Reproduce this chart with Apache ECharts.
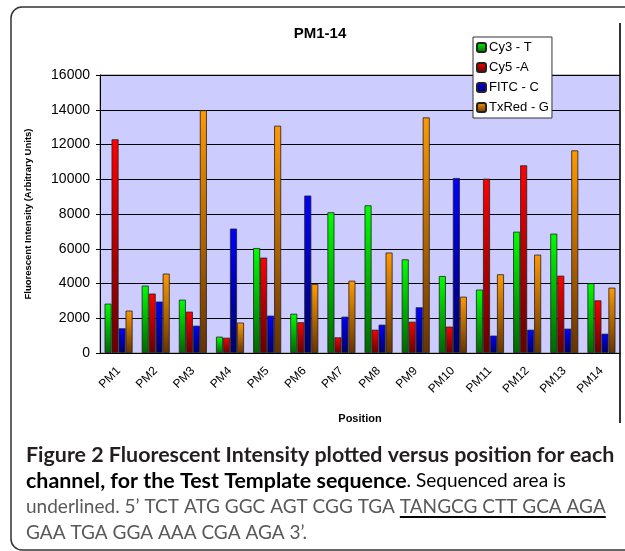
<!DOCTYPE html>
<html>
<head>
<meta charset="utf-8">
<title>PM1-14</title>
<script src="https://cdn.jsdelivr.net/npm/echarts@6.0.0/dist/echarts.min.js"></script>
<style>
  html, body { margin: 0; padding: 0; background: #fff; }
  #chart { width: 625px; height: 551px; }
</style>
</head>
<body>
<div id="chart"></div>
<script>
// values
const categories = ['PM1', 'PM2', 'PM3', 'PM4', 'PM5', 'PM6', 'PM7', 'PM8', 'PM9', 'PM10', 'PM11', 'PM12', 'PM13', 'PM14'];
const cy3 = [2840, 3880, 3070, 940, 6040, 2260, 8100, 8500, 5390, 4430, 3650, 6980, 6870, 4010];
const cy5 = [12300, 3420, 2380, 880, 5490, 1770, 900, 1340, 1800, 1520, 10030, 10800, 4450, 3030];
const fitc = [1420, 2960, 1570, 7160, 2150, 9060, 2090, 1630, 2630, 10070, 1000, 1340, 1400, 1110];
const txred = [2440, 4570, 13970, 1750, 13080, 3970, 4160, 5780, 13560, 3240, 4530, 5660, 11660, 3760];
const seriesNames = ['Cy3 - T', 'Cy5 -A', 'FITC - C', 'TxRed - G'];

const captionLine1 = 'Figure 2 Fluorescent Intensity plotted versus position for each';
const captionLine2Bold = 'channel, for the Test Template sequence';
const captionLine2 = '. Sequenced area is';
const captionLine3 = 'underlined. 5\u2019 TCT ATG GGC AGT CGG TGA TANGCG CTT GCA AGA';
const captionLine3Pre = 'underlined. 5\u2019 TCT ATG GGC AGT CGG TGA ';
const captionLine4 = 'GAA TGA GGA AAA CGA AGA 3\u2019.';

const font = 'Liberation Sans';
const capFont = 'Lato';

// fit caption font sizes to the widths seen in the picture
const ctx = document.createElement('canvas').getContext('2d');
function fitSize(text, weight, width) {
  ctx.font = weight + ' 20px ' + capFont;
  return 20 * width / ctx.measureText(text).width;
}
const boldSize = fitSize(captionLine1, 'bold', 589);
const normalSize = fitSize(captionLine3, 'normal', 580);
ctx.font = 'normal ' + normalSize + 'px ' + capFont;
const ulStart = 26 + ctx.measureText(captionLine3Pre).width;
const ulEnd = 26 + ctx.measureText(captionLine3).width;

function shade(top, bottom) {
  return new echarts.graphic.LinearGradient(0, 0, 0, 1, [
    { offset: 0, color: top },
    { offset: 1, color: bottom }
  ]);
}
const fills = [
  shade('#00ff00', '#006600'),
  shade('#ff0000', '#660000'),
  shade('#0000ff', '#000066'),
  shade('#ff9900', '#663300')
];

const chart = echarts.init(document.getElementById('chart'));

chart.setOption({
  animation: false,
  textStyle: { fontFamily: font },
  grid: {
    left: 100, top: 75, right: 5, height: 278,
    show: true, backgroundColor: '#ccccff', borderColor: '#808080', borderWidth: 1
  },
  legend: {
    data: seriesNames,
    orient: 'vertical',
    left: 473, top: 37,
    itemWidth: 9, itemHeight: 9, itemGap: 7,
    padding: [4, 3],
    backgroundColor: '#fff',
    borderColor: '#333', borderWidth: 1,
    textStyle: { fontFamily: font, fontSize: 13, color: '#000', padding: [0, 0, 0, -2] }
  },
  xAxis: {
    type: 'category',
    data: categories,
    name: 'Position',
    nameLocation: 'middle',
    nameGap: 60,
    nameTextStyle: { fontFamily: font, fontSize: 11, fontWeight: 'bold', color: '#000' },
    axisLine: { lineStyle: { color: '#000' } },
    axisTick: { length: 4, lineStyle: { color: '#000' } },
    axisLabel: { interval: 0, rotate: 45, fontSize: 12, color: '#000', margin: 16 }
  },
  yAxis: {
    type: 'value',
    min: 0, max: 16000, interval: 2000,
    name: 'Fluorescent Intensity (Arbitrary Units)',
    nameLocation: 'middle',
    nameGap: 67,
    nameTextStyle: { fontFamily: font, fontSize: 9.5, fontWeight: 'bold', color: '#000' },
    axisLine: { show: true, lineStyle: { color: '#000' } },
    axisTick: { show: true, length: 4, lineStyle: { color: '#000' } },
    axisLabel: { fontSize: 14, color: '#000', margin: 10, formatter: v => String(v) },
    splitLine: { lineStyle: { color: '#000', width: 1 } }
  },
  series: [cy3, cy5, fitc, txred].map((vals, i) => ({
    name: seriesNames[i],
    type: 'bar',
    data: vals,
    barWidth: 7,
    barGap: '0%',
    itemStyle: { color: fills[i], borderColor: '#222', borderWidth: 0.8 }
  })),
  graphic: [
    {
      type: 'rect', silent: true,
      shape: { x: 11, y: 7, width: 630, height: 543, r: 11 },
      style: { fill: null, stroke: '#333', lineWidth: 1.5 }
    },
    {
      type: 'line', silent: true,
      shape: { x1: 620, y1: 23, x2: 620, y2: 423 },
      style: { stroke: '#333', lineWidth: 2 }
    },
    {
      type: 'text', silent: true, x: 320, y: 34,
      style: { text: 'PM1-14', font: 'bold 15px ' + font, fill: '#000', align: 'center', verticalAlign: 'middle' }
    },
    {
      type: 'text', silent: true, x: 26, y: 455,
      style: { text: captionLine1, font: 'bold ' + boldSize + 'px ' + capFont, fill: '#231f20', verticalAlign: 'middle' }
    },
    {
      type: 'text', silent: true, x: 26, y: 481,
      style: {
        text: '{b|' + captionLine2Bold + '}{n|' + captionLine2 + '}',
        verticalAlign: 'middle',
        rich: {
          b: { fontFamily: capFont, fontWeight: 'bold', fontSize: boldSize, color: '#231f20' },
          n: { fontFamily: capFont, fontSize: normalSize, color: '#58595b' }
        }
      }
    },
    {
      type: 'text', silent: true, x: 26, y: 507,
      style: { text: captionLine3, font: normalSize + 'px ' + capFont, fill: '#58595b', verticalAlign: 'middle' }
    },
    {
      type: 'line', silent: true,
      shape: { x1: ulStart, y1: 517, x2: ulEnd, y2: 517 },
      style: { stroke: '#000', lineWidth: 2 }
    },
    {
      type: 'text', silent: true, x: 26, y: 533,
      style: { text: captionLine4, font: normalSize + 'px ' + capFont, fill: '#58595b', verticalAlign: 'middle' }
    }
  ]
});
</script>
</body>
</html>
